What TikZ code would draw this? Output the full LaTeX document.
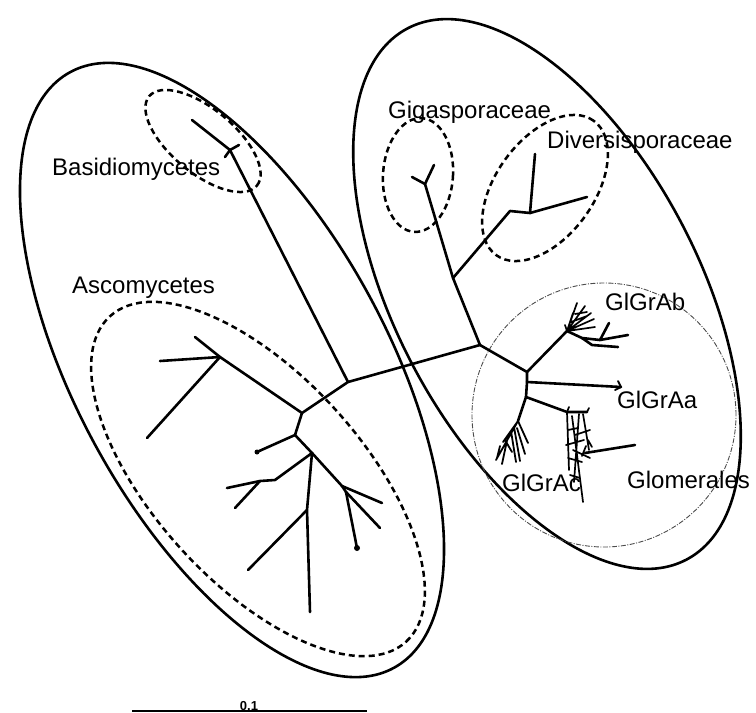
\documentclass[tikz,border=0pt]{standalone}
\usepackage{fontspec}
\setmainfont{Liberation Sans}
\begin{document}
\begin{tikzpicture}[x=1pt,y=-1pt,
  lab/.style={font=\fontsize{24}{28}\selectfont, inner sep=0pt, anchor=base west},
  outline/.style={line width=2.6pt},
  grp/.style={line width=2.5pt, dash pattern=on 6pt off 4pt},
  clade/.style={line width=0.9pt, black!70, dash pattern=on 5pt off 1.5pt on 1pt off 1.5pt},
  br/.style={line width=2.6pt, line cap=round, line join=round}]
\useasboundingbox (0,0) rectangle (756,713);

% outer ellipses
\draw[outline, rotate around={-61.5:(232,370)}] (232,370) ellipse [x radius=339pt, y radius=156pt];
\draw[outline, rotate around={-62.3:(547,294)}] (547,294) ellipse [x radius=300pt, y radius=152pt];

% dashed group ellipses
\draw[grp, rotate around={-39.7:(203,141)}] (203,141) ellipse [x radius=70pt, y radius=32pt];
\draw[grp, rotate around={-47.7:(258,479)}] (258,479) ellipse [x radius=220pt, y radius=104pt];
\draw[grp, rotate around={-4:(418,175)}] (418,175) ellipse [x radius=35pt, y radius=57pt];
\draw[grp, rotate around={54:(545,188)}] (545,188) ellipse [x radius=83pt, y radius=49pt];
\draw[clade] (604,415) circle [radius=132pt];

% tree coordinates
\coordinate (R) at (480,345);
\coordinate (M) at (348,382);
\coordinate (Bj) at (230,150);
\coordinate (b1) at (192,120);
\coordinate (b2) at (239,145);
\coordinate (b3) at (225,157);
\coordinate (A1) at (302,413);
\coordinate (A2) at (220,357);
\coordinate (a1) at (195,337);
\coordinate (a2) at (160,361);
\coordinate (a3) at (147,438);
\coordinate (A3) at (295,435);
\coordinate (a4) at (257,452);
\coordinate (A4) at (312,453);
\coordinate (A5) at (275,480);
\coordinate (A6) at (260,481);
\coordinate (a5) at (227,488);
\coordinate (a6) at (235,508);
\coordinate (A7) at (307,510);
\coordinate (a7) at (310,612);
\coordinate (a8) at (248,570);
\coordinate (A8) at (342,486);
\coordinate (a9) at (382,503);
\coordinate (A9) at (346,492);
\coordinate (a10) at (380,528);
\coordinate (a11) at (357,548);

\coordinate (D1) at (453,278);
\coordinate (G1) at (425,184);
\coordinate (g1) at (412,177);
\coordinate (g2) at (434,165);
\coordinate (D2) at (510,211);
\coordinate (D3) at (530,213);
\coordinate (d1) at (535,154);
\coordinate (d2) at (587,197);

\coordinate (C1) at (527,372);
\coordinate (Ca) at (527,382);
\coordinate (C2) at (526,397);
\coordinate (aa) at (621,387);
\coordinate (E1) at (567,331);
\coordinate (E2) at (582,338);
\coordinate (E3) at (600,340);
\coordinate (e1) at (609,323);
\coordinate (e2) at (628,335);
\coordinate (e3) at (618,347);
\coordinate (E4) at (592,345);
\coordinate (F1) at (567,412);
\coordinate (F2) at (587,412);
\coordinate (f1) at (635,445);
\coordinate (Fm) at (585,453);
\coordinate (H1) at (518,421);

% backbone and Basidiomycetes
\draw[br] (R) -- (M) -- (Bj) -- (b1);
\draw[br] (Bj) -- (b2);
\draw[br] (Bj) -- (b3);

% Ascomycetes
\draw[br] (M) -- (A1) -- (A2) -- (a1);
\draw[br] (A2) -- (a2);
\draw[br] (A2) -- (a3);
\draw[br] (A1) -- (A3) -- (a4);
\draw[br] (A3) -- (A4) -- (A5) -- (A6) -- (a5);
\draw[br] (A6) -- (a6);
\draw[br] (A4) -- (A7) -- (a7);
\draw[br] (A7) -- (a8);
\draw[br] (A4) -- (A8) -- (a9);
\draw[br] (A8) -- (A9) -- (a10);
\draw[br] (A9) -- (a11);
\fill (a4) circle (2.5pt);
\fill (a11) circle (3pt);

% Gigasporaceae / Diversisporaceae
\draw[br] (R) -- (D1) -- (G1) -- (g1);
\draw[br] (G1) -- (g2);
\draw[br] (D1) -- (D2) -- (D3) -- (d1);
\draw[br] (D3) -- (d2);

% Glomerales
\draw[br] (R) -- (C1) -- (Ca) -- (C2);
\draw[br] (Ca) -- (aa);
\draw[br, line width=1.8pt] (aa) -- ++(-3,-6) (aa) -- ++(-6,3);
% GlGrAb
\draw[br] (C1) -- (E1) -- (E2) -- (E3) -- (e2);
\draw[br] (E3) -- (e1);
\draw[br] (E2) -- (E4) -- (e3);
\draw[br, line width=1.7pt] (E1) -- ++(10,-28) (E1) -- ++(18,-25) (E1) -- ++(24,-18)
  (E1) -- ++(27,-12) (E1) -- ++(6,-18) (E1) -- ++(-2,-6) (571,322) -- ++(16,-6)
  (575,314) -- ++(12,-2) (E1) -- ++(28,-4);
% Glomerales core
\draw[br] (C2) -- (F1) -- (F2);
\draw[br, line width=1.7pt] (F1) -- ++(2,-5) (F2) -- ++(2,-4)
  (F1) -- (569,470) (572,416) -- (583,502) (579,414) -- (574,482)
  (583,414) -- (589,450) (568,430) -- (578,428) (566,445) -- (584,440)
  (568,458) -- (582,462) (570,475) -- (580,478) (575,435) -- (590,430)
  (573,450) -- (590,458) (588,440) -- (592,447) (586,446) -- (582,456);
\draw[br] (Fm) -- (f1);
% GlGrAc
\draw[br] (C2) -- (H1);
\draw[br, line width=1.8pt] (H1) -- (528,443) (H1) -- (503,442) (H1) -- (496,460)
  (514,427) -- (520,461) (511,431) -- (516,462) (508,436) -- (502,464)
  (505,440) -- (512,452) (500,446) -- (497,458) (517,428) -- (525,454);

% labels
\node[lab] (tBas) at (52,175) {Basidiomycetes};
\node[lab] (tAsc) at (72,293) {Ascomycetes};
\node[lab] (tGig) at (388,118) {Gigasporaceae};
\node[lab] (tDiv) at (547,148) {Diversisporaceae};
\node[lab] (tAb) at (605,310) {GlGrAb};
\node[lab] (tAa) at (617,408) {GlGrAa};
\node[lab] (tAc) at (502,491) {GlGrAc};
\node[lab] (tGlo) at (627,488) {Glomerales};

% scale bar
\coordinate (s0) at (132,711);
\coordinate (s1) at (367,711);
\draw[line width=2pt] (s0) -- (s1);
\node[font=\fontsize{13}{15}\selectfont\bfseries, inner sep=0pt, anchor=base] (tsc) at (249,710) {0.1};
\end{tikzpicture}
\end{document}
